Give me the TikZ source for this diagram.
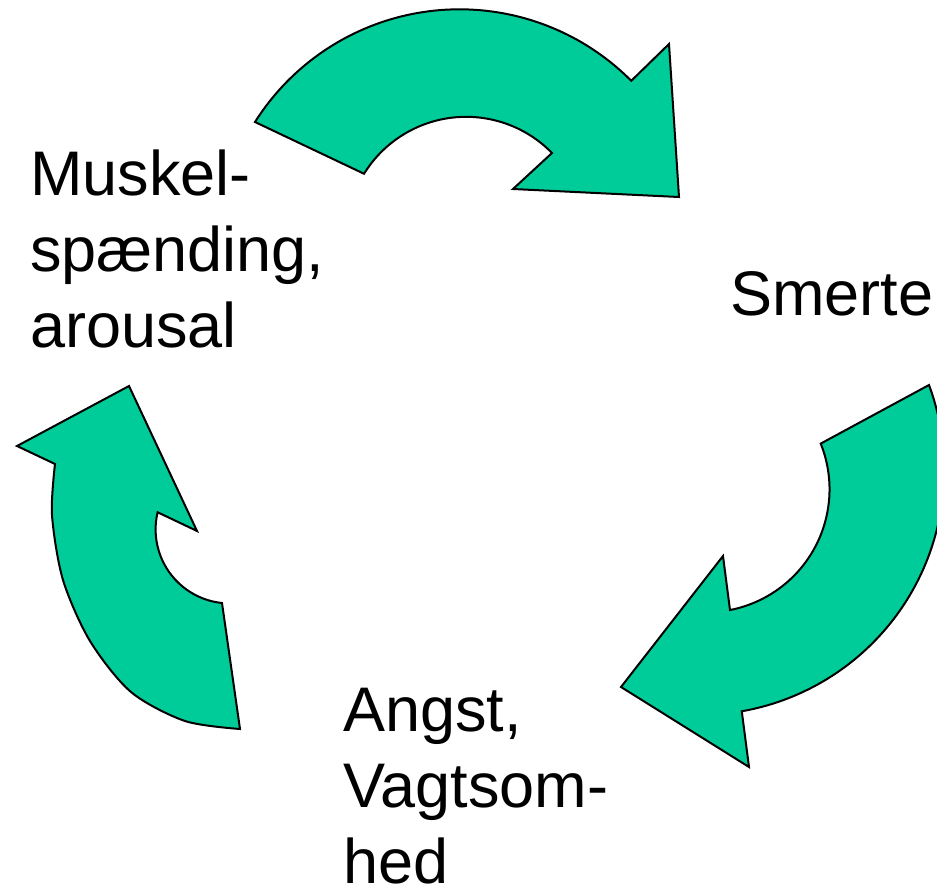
\documentclass[tikz,border=0pt]{standalone}
\usepackage{fontspec}
\setmainfont{Liberation Sans}
\definecolor{arrowgreen}{RGB}{0,204,153}
\begin{document}
\begin{tikzpicture}[x=1pt,y=-1pt,
  cyc/.style={fill=arrowgreen, draw=black, line width=2pt, line join=miter},
  lbl/.style={font=\fontsize{63}{76}\selectfont, inner sep=0pt, anchor=base west, align=left}]
\useasboundingbox (0,0) rectangle (937,895);
\clip (0,0) rectangle (937,895);
% top arrow
\draw[cyc] (255,122) arc[start angle=147.7, end angle=44.8, radius=242pt]
  -- (669,44) -- (679,197) -- (513,189) -- (552,153)
  arc[start angle=44.3, end angle=148.3, radius=120pt] -- cycle;
% right arrow
\draw[cyc] (929,385) arc[start angle=20.3, end angle=-80, radius=245pt]
  -- (749,767) -- (621,687) -- (723,556) -- (730,610)
  arc[start angle=-79, end angle=21.8, radius=123pt] -- cycle;
% left arrow
\draw[cyc] (240,729) -- (222,603)
  arc[start angle=264.1, end angle=166.6, radius=74pt]
  -- (197,531) -- (129,386) -- (17,446) -- (55,464)
  -- plot[smooth] coordinates {(55,464) (52,515) (63,580) (90,641) (131,692) (185,721) (240,729)} -- cycle;
% labels
\node[lbl] (muskel) at (30,347) {Muskel-\\spænding,\\arousal};
\node[lbl] (smerte) at (730,315) {Smerte};
\node[lbl] (angst) at (343,883) {Angst,\\Vagtsom-\\hed};
\end{tikzpicture}
\end{document}
